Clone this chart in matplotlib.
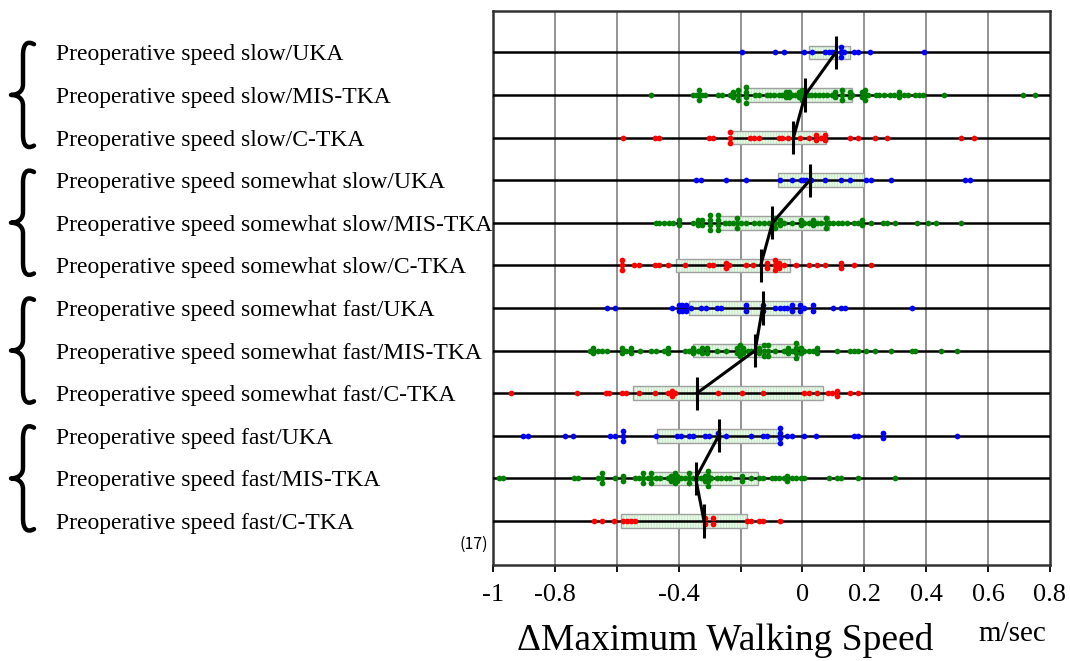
import numpy as np
import matplotlib
matplotlib.use('Agg')
import matplotlib.pyplot as plt
from matplotlib.patches import Rectangle, PathPatch
from matplotlib.path import Path
from matplotlib.transforms import blended_transform_factory

# row labels (top to bottom)
labels = [
    'Preoperative speed slow/UKA',
    'Preoperative speed slow/MIS-TKA',
    'Preoperative speed slow/C-TKA',
    'Preoperative speed somewhat slow/UKA',
    'Preoperative speed somewhat slow/MIS-TKA',
    'Preoperative speed somewhat slow/C-TKA',
    'Preoperative speed somewhat fast/UKA',
    'Preoperative speed somewhat fast/MIS-TKA',
    'Preoperative speed somewhat fast/C-TKA',
    'Preoperative speed fast/UKA',
    'Preoperative speed fast/MIS-TKA',
    'Preoperative speed fast/C-TKA',
]

# individual changes (m/sec)
slow_uka = [-0.196, -0.088, -0.061, 0.006, 0.032, 0.073, 0.085, 0.094, 0.104, 0.124, 0.124, 0.124,
            0.135, 0.167, 0.18, 0.219, 0.392]
slow_mis = [-0.488, -0.353, -0.344, -0.335, -0.335, -0.335, -0.326, -0.315, -0.273, -0.261, -0.235,
            -0.224, -0.224, -0.208, -0.208, -0.208, -0.182, -0.182, -0.182, -0.182, -0.153, -0.139,
            -0.115, -0.106, -0.091, -0.076, -0.065, -0.053, -0.053, -0.045, -0.045, -0.035, -0.024,
            -0.012, -0.012, -0.002, -0.002, -0.002, 0.006, 0.006, 0.018, 0.029, 0.039, 0.053, 0.065,
            0.079, 0.094, 0.106, 0.106, 0.127, 0.127, 0.127, 0.153, 0.153, 0.161, 0.191, 0.191, 0.202,
            0.202, 0.202, 0.212, 0.238, 0.249, 0.265, 0.282, 0.296, 0.312, 0.312, 0.329, 0.341, 0.365,
            0.376, 0.388, 0.459, 0.712, 0.753]
slow_ctka = [-0.58, -0.476, -0.462, -0.302, -0.288, -0.235, -0.235, -0.235, -0.168, -0.156, -0.141,
             -0.076, -0.065, -0.047, -0.008, 0.02, 0.044, 0.044, 0.059, 0.073, 0.073, 0.153, 0.18,
             0.233, 0.273, 0.512, 0.553]
swslow_uka = [-0.344, -0.329, -0.247, -0.181, -0.074, -0.035, -0.006, 0.002, 0.012, 0.029, 0.073,
              0.126, 0.153, 0.206, 0.22, 0.286, 0.524, 0.541]
swslow_mis = [-0.474, -0.462, -0.447, -0.432, -0.418, -0.4, -0.4, -0.353, -0.339, -0.339, -0.324,
              -0.324, -0.3, -0.3, -0.3, -0.3, -0.274, -0.274, -0.274, -0.274, -0.249, -0.238, -0.226,
              -0.212, -0.212, -0.212, -0.2, -0.182, -0.155, -0.141, -0.124, -0.108, -0.096, -0.088,
              -0.088, -0.088, -0.074, -0.074, -0.059, -0.035, -0.006, -0.006, 0.006, 0.021, 0.033,
              0.033, 0.047, 0.061, 0.076, 0.076, 0.076, 0.085, 0.1, 0.115, 0.129, 0.145, 0.165, 0.18,
              0.194, 0.194, 0.22, 0.259, 0.273, 0.298, 0.371, 0.406, 0.433, 0.512]
swslow_ctka = [-0.582, -0.582, -0.582, -0.544, -0.529, -0.476, -0.462, -0.435, -0.38, -0.302, -0.288,
               -0.247, -0.247, -0.238, -0.182, -0.159, -0.115, -0.115, -0.088, -0.088, -0.088, -0.076,
               -0.076, -0.061, -0.021, 0.02, 0.047, 0.073, 0.126, 0.126, 0.167, 0.22]
swfast_uka = [-0.633, -0.606, -0.42, -0.398, -0.398, -0.388, -0.388, -0.376, -0.376, -0.361, -0.327,
              -0.312, -0.276, -0.262, -0.182, -0.182, -0.129, -0.129, -0.088, -0.074, -0.061, -0.049,
              -0.035, -0.035, -0.008, -0.008, 0.006, 0.033, 0.033, 0.098, 0.124, 0.139, 0.353]
swfast_mis = [-0.688, -0.676, -0.676, -0.661, -0.647, -0.633, -0.582, -0.582, -0.571, -0.553, -0.553,
              -0.526, -0.488, -0.473, -0.447, -0.435, -0.435, -0.38, -0.367, -0.353, -0.353, -0.339,
              -0.324, -0.324, -0.309, -0.309, -0.276, -0.247, -0.212, -0.212, -0.202, -0.202, -0.202,
              -0.191, -0.191, -0.176, -0.165, -0.153, -0.139, -0.139, -0.124, -0.124, -0.124, -0.112,
              -0.112, -0.112, -0.088, -0.061, -0.047, -0.047, -0.033, -0.021, -0.021, -0.021, -0.021,
              -0.006, -0.006, 0.006, 0.02, 0.033, 0.047, 0.047, 0.112, 0.153, 0.168, 0.18, 0.206,
              0.233, 0.286, 0.353, 0.365, 0.447, 0.5]
swfast_ctka = [-0.941, -0.729, -0.635, -0.624, -0.582, -0.571, -0.529, -0.476, -0.435, -0.421, -0.421,
               -0.412, -0.274, -0.196, -0.129, 0.006, 0.02, 0.047, 0.082, 0.096, 0.112, 0.112, 0.153,
               0.18]
fast_uka = [-0.902, -0.888, -0.767, -0.741, -0.621, -0.606, -0.58, -0.58, -0.58, -0.474, -0.406,
            -0.394, -0.367, -0.355, -0.315, -0.302, -0.274, -0.274, -0.247, -0.167, -0.129, -0.115,
            -0.074, -0.074, -0.074, -0.074, -0.049, -0.035, 0.006, 0.045, 0.165, 0.18, 0.259, 0.259,
            0.5]
fast_mis = [-0.98, -0.967, -0.739, -0.726, -0.661, -0.647, -0.647, -0.647, -0.606, -0.58, -0.58,
            -0.541, -0.529, -0.515, -0.515, -0.515, -0.5, -0.488, -0.488, -0.488, -0.473, -0.461,
            -0.435, -0.424, -0.424, -0.412, -0.412, -0.412, -0.404, -0.404, -0.391, -0.38, -0.367,
            -0.367, -0.367, -0.355, -0.341, -0.329, -0.315, -0.315, -0.306, -0.306, -0.306, -0.306,
            -0.294, -0.276, -0.262, -0.247, -0.235, -0.194, -0.194, -0.167, -0.141, -0.129, -0.1,
            -0.088, -0.076, -0.061, -0.049, -0.049, -0.035, -0.021, -0.006, 0.006, 0.085, 0.112,
            0.126, 0.18, 0.298]
fast_ctka = [-0.674, -0.647, -0.608, -0.58, -0.567, -0.555, -0.541, -0.315, -0.315, -0.288, -0.288,
             -0.18, -0.167, -0.141, -0.129, -0.074]

rows_data = [slow_uka, slow_mis, slow_ctka, swslow_uka, swslow_mis, swslow_ctka,
             swfast_uka, swfast_mis, swfast_ctka, fast_uka, fast_mis, fast_ctka]

# median and quartiles per row
medians = [0.108, 0.009, -0.029, 0.024, -0.097, -0.135, -0.129, -0.153, -0.341, -0.271, -0.345, -0.318]
q1 = [0.021, -0.182, -0.232, -0.079, -0.276, -0.409, -0.365, -0.355, -0.547, -0.471, -0.488, -0.586]
q3 = [0.153, 0.161, 0.076, 0.2, 0.086, -0.041, -0.002, -0.012, 0.065, -0.074, -0.145, -0.179]

row_colors = ['#0000ff', '#008000', '#ff0000'] * 4

xticks = [-1, -0.8, -0.6, -0.4, -0.2, 0, 0.2, 0.4, 0.6, 0.8]
xticklabels = ['-1', '-0.8', '', '-0.4', '', '0', '0.2', '0.4', '0.6', '0.8']

serif = 'Liberation Serif'
plt.rcParams['hatch.linewidth'] = 0.6

fig = plt.figure(figsize=(10.7, 6.61), dpi=100)
ax = fig.add_axes([493 / 1070, 1 - 565 / 661, (1050 - 493) / 1070, (565 - 10.7) / 661])

ypos = np.arange(12, 0, -1)
ax.set_xlim(-1, 0.8)
ax.set_ylim(-0.033, 12.977)

# vertical grid
for xv in xticks[1:-1]:
    ax.axvline(xv, color='#808080', lw=1.2, zorder=1)

for i, vals in enumerate(rows_data):
    y = ypos[i]
    # IQR box
    ax.add_patch(Rectangle((q1[i], y - 0.16), q3[i] - q1[i], 0.32, facecolor='#e9f8e9',
                           edgecolor='#bfeabf', hatch='||||||', lw=0, zorder=2))
    ax.add_patch(Rectangle((q1[i], y - 0.16), q3[i] - q1[i], 0.32, fill=False,
                           edgecolor='#a0a0a0', lw=1.0, zorder=2))
    ax.axhline(y, color='black', lw=1.8, zorder=3)
    # stack identical values
    v = np.array(vals)
    uniq, counts = np.unique(v, return_counts=True)
    xs, ys = [], []
    for u, n in zip(uniq, counts):
        for k in range(n):
            xs.append(u)
            ys.append(y + (k - (n - 1) / 2) * 0.12)
    ax.scatter(xs, ys, s=17, color=row_colors[i], linewidths=0, zorder=4)

# medians and connecting lines within groups
ax.vlines(medians, ypos - 0.39, ypos + 0.39, color='black', lw=2.2, zorder=5)
for g in range(4):
    ax.plot(medians[g * 3:g * 3 + 3], ypos[g * 3:g * 3 + 3], color='black', lw=2.2, zorder=5)

for s in ax.spines.values():
    s.set_color('#333333')
    s.set_linewidth(1.8)
ax.set_yticks([])
ax.set_xticks(xticks)
ax.set_xticklabels(xticklabels, fontsize=19, family=serif)
ax.tick_params(axis='x', direction='out', length=5, width=1.3, pad=9)
ax.set_xticks([-1, 0], minor=True)
ax.tick_params(axis='x', which='minor', direction='out', length=12, width=1.3)

# row labels and braces on the left
tr = blended_transform_factory(fig.transFigure, ax.transData)
for i, lab in enumerate(labels):
    ax.text(56 / 1070, ypos[i], lab, transform=tr, ha='left', va='center_baseline',
            fontsize=17, family=serif, clip_on=False)

h = 1.23
for g in range(4):
    yc = ypos[g * 3 + 1]
    px = lambda p: p / 1070
    verts = [
        (px(34), yc + h - 0.04),
        (px(27), yc + h + 0.05), (px(23), yc + h - 0.04), (px(23), yc + h - 0.3),
        (px(23), yc + 0.25),
        (px(23), yc + 0.07), (px(17), yc), (px(11), yc),
        (px(17), yc), (px(23), yc - 0.07), (px(23), yc - 0.25),
        (px(23), yc - h + 0.3),
        (px(23), yc - h + 0.04), (px(27), yc - h - 0.05), (px(34), yc - h + 0.04),
    ]
    codes = [Path.MOVETO, Path.CURVE4, Path.CURVE4, Path.CURVE4, Path.LINETO,
             Path.CURVE4, Path.CURVE4, Path.CURVE4, Path.CURVE4, Path.CURVE4, Path.CURVE4,
             Path.LINETO, Path.CURVE4, Path.CURVE4, Path.CURVE4]
    fig.add_artist(PathPatch(Path(verts, codes), transform=tr, fill=False, lw=3.2,
                             edgecolor='black', capstyle='round', joinstyle='round'))

fig.text(488 / 1070, 1 - 544 / 661, '(17)', ha='right', va='center', fontsize=11.5,
         family=['Noto Sans CJK JP', 'DejaVu Sans'])
fig.text(725 / 1070, 1 - 641 / 661, 'ΔMaximum Walking Speed', ha='center', va='center',
         fontsize=27, family=serif)
fig.text(1012 / 1070, 1 - 634 / 661, 'm/sec', ha='center', va='center', fontsize=21, family=serif)

fig.savefig('out.png', dpi=100)
